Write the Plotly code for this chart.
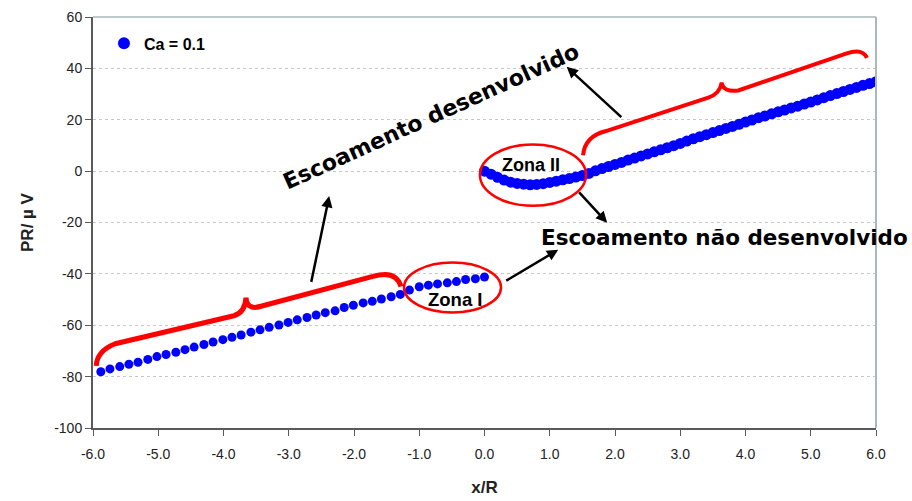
"""Pressure signal PR along the pipe axis (x/R) for Ca = 0.1.

Scatter of the measured PR values with the hand-drawn style annotations
(braces, zone ellipses and arrows) marking developed / undeveloped flow.
"""

import plotly.graph_objects as go

# =============================================================================
# Data
# =============================================================================

# Upstream side: discrete acquisition points
X_UPSTREAM = [
    -5.88, -5.74, -5.59, -5.45, -5.31, -5.16, -5.02, -4.88, -4.73, -4.59,
    -4.45, -4.30, -4.16, -4.01, -3.87, -3.73, -3.58, -3.44, -3.30, -3.15,
    -3.01, -2.87, -2.72, -2.58, -2.44, -2.29, -2.15, -2.01, -1.86, -1.72,
    -1.58, -1.43, -1.29, -1.15, -1.00, -0.86, -0.72, -0.57, -0.43, -0.29,
    -0.14, 0.00,
]
PR_UPSTREAM = [
    -78.1, -77.0, -76.1, -75.2, -74.4, -73.3, -72.2, -71.4, -70.5, -69.5,
    -68.5, -67.5, -66.5, -65.6, -64.7, -63.8, -62.7, -61.8, -60.8, -59.9,
    -58.9, -57.9, -57.0, -56.0, -55.1, -54.4, -53.1, -52.2, -51.3, -50.7,
    -49.8, -48.9, -48.0, -46.3, -45.0, -44.4, -43.9, -43.5, -43.0, -42.2,
    -41.9, -41.2,
]

# Downstream side: dense acquisition
X_DOWNSTREAM = [
    0.0, 0.1, 0.2, 0.3, 0.4, 0.5, 0.6, 0.7, 0.8, 0.9,
    1.0, 1.1, 1.2, 1.3, 1.4, 1.5, 1.6, 1.7, 1.8, 1.9,
    2.0, 2.1, 2.2, 2.3, 2.4, 2.5, 2.6, 2.7, 2.8, 2.9,
    3.0, 3.1, 3.2, 3.3, 3.4, 3.5, 3.6, 3.7, 3.8, 3.9,
    4.0, 4.1, 4.2, 4.3, 4.4, 4.5, 4.6, 4.7, 4.8, 4.9,
    5.0, 5.1, 5.2, 5.3, 5.4, 5.5, 5.6, 5.7, 5.8, 5.9,
    6.0,
]
PR_DOWNSTREAM = [
    0.0, -1.2, -2.4, -3.5, -4.3, -4.8, -5.1, -5.3, -5.2, -4.9,
    -4.4, -3.9, -3.4, -2.9, -2.3, -1.7, -0.9, 0.1, 1.0, 1.8,
    2.6, 3.4, 4.3, 5.1, 5.9, 6.7, 7.5, 8.3, 9.1, 9.9,
    10.8, 11.7, 12.6, 13.4, 14.2, 15.0, 15.8, 16.6, 17.4, 18.2,
    19.1, 19.9, 20.8, 21.5, 22.3, 23.1, 23.8, 24.6, 25.3, 26.1,
    26.9, 27.7, 28.6, 29.4, 30.2, 31.0, 31.8, 32.6, 33.4, 34.1,
    34.8,
]

SERIES_NAME = "Ca = 0.1"
X_TICKS = [-6.0, -5.0, -4.0, -3.0, -2.0, -1.0, 0.0, 1.0, 2.0, 3.0, 4.0, 5.0, 6.0]
X_TICK_LABELS = ["-6.0", "-5.0", "-4.0", "-3.0", "-2.0", "-1.0", "0.0",
                 "1.0", "2.0", "3.0", "4.0", "5.0", "6.0"]
Y_TICKS = [-100, -80, -60, -40, -20, 0, 20, 40, 60]
Y_TICK_LABELS = ["-100", "-80", "-60", "-40", "-20", "0", "20", "40", "60"]

# =============================================================================
# Style
# =============================================================================

ARIAL = "Arial, 'Liberation Sans', sans-serif"
WIDE_BOLD = "'DejaVu Sans', Verdana, sans-serif"
BLUE = "#0000FF"
RED = "#FF0000"
AXIS_DARK = "#5a5a5a"
FRAME_LIGHT = "#a9b8b8"
GRID = "#c8c8c8"

# brace outlines, in data units (annotation geometry)
BRACE_LEFT = (
    "M -5.95,-75.8 Q -5.94,-70.0 -5.66,-67.2 L -3.84,-56.3 "
    "Q -3.67,-55.0 -3.655,-49.3 Q -3.64,-54.2 -3.44,-52.7 "
    "L -1.71,-41.0 Q -1.36,-38.3 -1.28,-44.9"
)
BRACE_RIGHT = (
    "M 1.51,6.2 Q 1.54,13.5 1.85,15.5 L 3.43,28.6 "
    "Q 3.61,30.2 3.635,34.5 Q 3.655,30.6 3.89,31.4 "
    "L 5.54,45.7 Q 5.79,48.0 5.86,44.1"
)


def build_figure() -> go.Figure:
    fig = go.Figure()

    fig.add_trace(
        go.Scatter(
            x=X_UPSTREAM,
            y=PR_UPSTREAM,
            mode="markers",
            name=SERIES_NAME,
            marker={"color": BLUE, "size": 9},
        )
    )
    fig.add_trace(
        go.Scatter(
            x=X_DOWNSTREAM,
            y=PR_DOWNSTREAM,
            mode="markers",
            name=SERIES_NAME,
            showlegend=False,
            marker={"color": BLUE, "size": 11},
        )
    )

    # red braces
    fig.add_shape(type="path", path=BRACE_LEFT, xref="x", yref="y",
                  line={"color": RED, "width": 5})
    fig.add_shape(type="path", path=BRACE_RIGHT, xref="x", yref="y",
                  line={"color": RED, "width": 4})

    # zone ellipses
    fig.add_shape(type="circle", xref="x", yref="y",
                  x0=-0.07, x1=1.556, y0=-13.5, y1=10.4,
                  line={"color": RED, "width": 2.5})
    fig.add_shape(type="circle", xref="x", yref="y",
                  x0=-1.234, x1=0.253, y0=-55.0, y1=-35.6,
                  line={"color": RED, "width": 2.5})

    # light frame on top / right
    fig.add_shape(type="line", xref="paper", yref="paper", x0=0, x1=1, y0=1, y1=1,
                  line={"color": FRAME_LIGHT, "width": 1.5})
    fig.add_shape(type="line", xref="paper", yref="paper", x0=1, x1=1, y0=0, y1=1,
                  line={"color": FRAME_LIGHT, "width": 2})

    # arrows: (tail_x, tail_y, head_x, head_y)
    arrows = [
        (-2.66, -43.7, -2.38, -9.7),
        (2.12, 20.5, 1.26, 40.6),
        (1.43, -7.7, 1.88, -20.1),
        (0.31, -43.0, 1.13, -30.6),
    ]
    for tx, ty, hx, hy in arrows:
        fig.add_annotation(
            x=hx, y=hy, ax=tx, ay=ty, xref="x", yref="y", axref="x", ayref="y",
            text="", showarrow=True, arrowhead=2, arrowsize=0.9,
            arrowwidth=2.5, arrowcolor="#000000",
        )

    texts = [
        # (x, y, text, size, angle, family)
        (0.71, 2.3, "<b>Zona II</b>", 18, 0, ARIAL),
        (-0.45, -50.1, "<b>Zona I</b>", 18.5, 0, ARIAL),
        (-0.82, 21.3, "<b>Escoamento desenvolvido</b>", 22, -24.4, WIDE_BOLD),
        (3.68, -25.9, "<b>Escoamento não desenvolvido</b>", 21.5, 0, WIDE_BOLD),
    ]
    for x, y, text, size, angle, family in texts:
        fig.add_annotation(
            x=x, y=y, xref="x", yref="y", text=text, showarrow=False,
            textangle=angle, font={"family": family, "size": size, "color": "#000000"},
        )

    fig.update_layout(
        width=912,
        height=501,
        paper_bgcolor="#FFFFFF",
        plot_bgcolor="#FFFFFF",
        font={"family": ARIAL, "size": 14, "color": "#222222"},
        margin={"l": 93, "r": 36, "t": 17, "b": 73},
        showlegend=True,
        legend={
            "x": 0.014,
            "y": 0.977,
            "xanchor": "left",
            "yanchor": "top",
            "bgcolor": "rgba(0,0,0,0)",
            "font": {"family": ARIAL, "size": 16, "color": "#000000", "weight": "bold"},
            "itemsizing": "constant",
        },
        xaxis={
            "range": [-6, 6],
            "tickvals": X_TICKS,
            "ticktext": X_TICK_LABELS,
            "automargin": False,
            "showgrid": False,
            "zeroline": False,
            "showline": True,
            "linecolor": AXIS_DARK,
            "linewidth": 2,
            "ticks": "outside",
            "ticklen": 6,
            "tickcolor": AXIS_DARK,
            "ticklabelstandoff": 6,
            "tickfont": {"family": ARIAL, "size": 14, "color": "#222222"},
            "title": {
                "text": "<b>x/R</b>",
                "font": {"family": ARIAL, "size": 17, "color": "#222222"},
                "standoff": 20,
            },
        },
        yaxis={
            "range": [-100, 60],
            "tickvals": Y_TICKS,
            "ticktext": Y_TICK_LABELS,
            "automargin": False,
            "showgrid": True,
            "gridcolor": GRID,
            "griddash": "dot",
            "gridwidth": 1,
            "zeroline": False,
            "showline": True,
            "linecolor": AXIS_DARK,
            "linewidth": 2,
            "ticks": "outside",
            "ticklen": 6,
            "tickcolor": AXIS_DARK,
            "tickfont": {"family": ARIAL, "size": 14, "color": "#222222"},
            "title": {
                "text": "<b>PR/ µ V</b>",
                "font": {"family": ARIAL, "size": 17, "color": "#222222"},
                "standoff": 16,
            },
        },
    )
    return fig


if __name__ == "__main__":
    fig = build_figure()
    # drop the browser's default body margin so the 912x501 figure fills the page
    fig.write_html(
        "out.html",
        config={"displayModeBar": False},
        post_script="document.body.style.margin = '0';",
    )
